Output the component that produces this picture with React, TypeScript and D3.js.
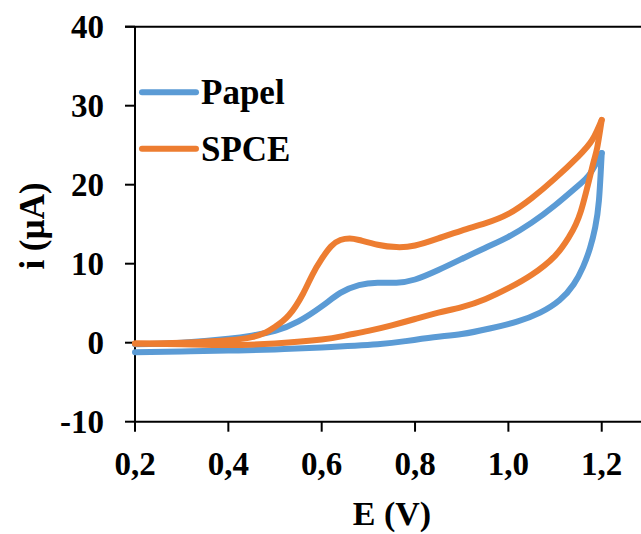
import { useRef, useEffect } from 'react';
import * as d3 from 'd3';

// potential (V) / current (µA)
const papelForward = [
  [0.2, -0.2], [0.3, 0.0], [0.4, 0.5], [0.45, 0.9], [0.5, 1.5], [0.55, 2.7],
  [0.6, 4.6], [0.64, 6.3], [0.68, 7.3], [0.72, 7.6], [0.76, 7.6], [0.8, 8.0],
  [0.85, 9.2], [0.9, 10.6], [0.95, 12.0], [1.0, 13.4], [1.05, 15.2], [1.1, 17.4],
  [1.15, 19.9], [1.175, 21.4], [1.2, 24.0],
];
const papelReverse = [
  [1.2, 24.0], [1.194, 18.0], [1.186, 14.6], [1.175, 12.0], [1.16, 9.6], [1.14, 7.4],
  [1.11, 5.4], [1.068, 3.8], [1.02, 2.7], [0.96, 1.8], [0.9, 1.1], [0.84, 0.7],
  [0.78, 0.2], [0.72, -0.2], [0.6, -0.6], [0.5, -0.85], [0.4, -1.0], [0.3, -1.1], [0.2, -1.2],
];
const spceForward = [
  [0.2, -0.1], [0.3, 0.0], [0.4, 0.3], [0.45, 0.7], [0.48, 1.3], [0.5, 2.0],
  [0.53, 3.5], [0.56, 6.2], [0.58, 8.6], [0.6, 10.6], [0.62, 12.2], [0.64, 13.0],
  [0.66, 13.2], [0.68, 13.0], [0.72, 12.4], [0.76, 12.1], [0.8, 12.3], [0.85, 13.2],
  [0.9, 14.2], [0.95, 15.1], [1.0, 16.3], [1.05, 18.3], [1.1, 20.8], [1.15, 23.6],
  [1.18, 25.7], [1.2, 28.2],
];
const spceReverse = [
  [1.2, 28.2], [1.19, 24.6], [1.18, 22.3], [1.155, 16.6], [1.13, 13.4], [1.1, 11.0],
  [1.05, 8.6], [1.0, 6.9], [0.95, 5.5], [0.9, 4.5], [0.85, 3.8], [0.8, 3.0],
  [0.75, 2.2], [0.7, 1.5], [0.65, 0.9], [0.6, 0.4], [0.5, -0.1], [0.4, -0.3],
  [0.3, -0.2], [0.2, -0.1],
];

const seriesNames = ['Papel', 'SPCE'];
const seriesColors = ['#5B9BD5', '#ED7D31'];
const xTicks = [0.2, 0.4, 0.6, 0.8, 1.0, 1.2];
const yTicks = [-10, 0, 10, 20, 30, 40];

const WIDTH = 641;
const HEIGHT = 534;
const FONT = '"Liberation Serif", "Times New Roman", serif';

const App = () => {
  const svgRef = useRef(null);

  useEffect(() => {
    const svg = d3.select(svgRef.current);
    svg.selectAll('*').remove();

    const xScale = d3.scaleLinear().domain([0.2, 1.3]).range([135, 648.4]);
    const yScale = d3.scaleLinear().domain([-10, 40]).range([421.7, 26.7]);

    // axes
    const axis = svg.append('g').attr('stroke', '#000').attr('stroke-width', 2);
    axis.append('line')
      .attr('x1', xScale(0.2)).attr('x2', WIDTH)
      .attr('y1', yScale(-10)).attr('y2', yScale(-10));
    axis.append('line')
      .attr('x1', xScale(0.2) - 10).attr('x2', WIDTH)
      .attr('y1', yScale(40)).attr('y2', yScale(40));
    axis.append('line')
      .attr('x1', xScale(0.2)).attr('x2', xScale(0.2))
      .attr('y1', yScale(40)).attr('y2', yScale(-10));

    yTicks.forEach((t) => {
      axis.append('line')
        .attr('x1', xScale(0.2) - 10).attr('x2', xScale(0.2))
        .attr('y1', yScale(t)).attr('y2', yScale(t));
      svg.append('text')
        .attr('x', 104).attr('y', yScale(t) + 11)
        .attr('text-anchor', 'end')
        .attr('font-family', FONT).attr('font-weight', 'bold').attr('font-size', 33)
        .text(t);
    });

    xTicks.forEach((t) => {
      axis.append('line')
        .attr('x1', xScale(t)).attr('x2', xScale(t))
        .attr('y1', yScale(-10)).attr('y2', yScale(-10) + 10);
      svg.append('text')
        .attr('x', xScale(t)).attr('y', 475)
        .attr('text-anchor', 'middle')
        .attr('font-family', FONT).attr('font-weight', 'bold').attr('font-size', 33)
        .text(d3.format('.1f')(t).replace('.', ','));
    });

    svg.append('text')
      .attr('x', 392).attr('y', 525)
      .attr('text-anchor', 'middle')
      .attr('font-family', FONT).attr('font-weight', 'bold').attr('font-size', 34)
      .text('E (V)');

    svg.append('text')
      .attr('transform', 'translate(44,226) rotate(-90)')
      .attr('text-anchor', 'middle')
      .attr('font-family', FONT).attr('font-weight', 'bold').attr('font-size', 35)
      .text('i (µA)');

    // curves
    const lineGenerator = d3.line()
      .x((d) => xScale(d[0]))
      .y((d) => yScale(d[1]))
      .curve(d3.curveNatural);

    const allSeries = [[papelForward, papelReverse], [spceForward, spceReverse]];
    allSeries.forEach((branches, i) => {
      branches.forEach((branch) => {
        svg.append('path')
          .attr('d', lineGenerator(branch))
          .attr('fill', 'none')
          .attr('stroke', seriesColors[i])
          .attr('stroke-width', 6)
          .attr('stroke-linecap', 'round')
          .attr('stroke-linejoin', 'round');
      });
    });

    // legend
    seriesNames.forEach((name, i) => {
      const y = 92.3 + i * 56.5;
      svg.append('line')
        .attr('x1', 142).attr('x2', 196)
        .attr('y1', y).attr('y2', y)
        .attr('stroke', seriesColors[i])
        .attr('stroke-width', 6)
        .attr('stroke-linecap', 'round');
      svg.append('text')
        .attr('x', 201).attr('y', y + 12)
        .attr('font-family', FONT).attr('font-weight', 'bold').attr('font-size', 35)
        .text(name);
    });
  }, []);

  return (
    <svg
      ref={svgRef}
      width={WIDTH}
      height={HEIGHT}
      style={{ position: 'absolute', left: 0, top: 0, background: '#fff' }}
    />
  );
};

export default App;
